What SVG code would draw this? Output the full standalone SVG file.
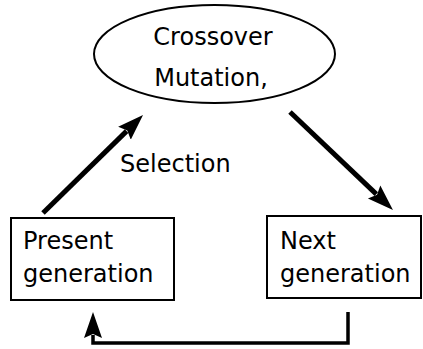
<svg xmlns="http://www.w3.org/2000/svg" width="423" height="349" viewBox="0 0 423 349">
  <style>
    .shape { fill: #fff; stroke: #000; stroke-width: 2; }
    .label { font-family: "DejaVu Sans", "Liberation Sans", sans-serif; font-size: 24px; fill: #000; }
    .link { fill: none; stroke: #000; stroke-width: 5; }
    .loop { fill: none; stroke: #000; stroke-width: 3.5; }
  </style>
  <defs>
    <!-- solid, slightly notched arrowhead; the line stops at its back edge -->
    <marker id="head" markerUnits="userSpaceOnUse" viewBox="-3 -10 27 20" refX="0" refY="0" markerWidth="27" markerHeight="20" orient="auto">
      <path d="M-3,-9 L23,0 L-3,9 L1,0 z" fill="#000"/>
    </marker>
  </defs>

  <g id="operators">
    <ellipse class="shape" cx="214.5" cy="54" rx="120.5" ry="49"/>
    <text class="label" x="213" y="45" text-anchor="middle">Crossover</text>
    <text class="label" x="211" y="86" text-anchor="middle">Mutation,</text>
  </g>

  <g id="present">
    <rect class="shape" x="11" y="218" width="163" height="82"/>
    <text class="label" x="23" y="249">Present</text>
    <text class="label" x="23" y="282">generation</text>
  </g>

  <g id="next">
    <rect class="shape" x="267" y="216" width="154" height="82"/>
    <text class="label" x="280" y="249">Next</text>
    <text class="label" x="280" y="282">generation</text>
  </g>

  <g id="connectors">
    <line class="link" x1="43" y1="213" x2="126.6" y2="131.1" marker-end="url(#head)"/>
    <text class="label" x="120" y="172">Selection</text>
    <line class="link" x1="290" y1="112" x2="376.3" y2="194.1" marker-end="url(#head)"/>
    <path class="loop" d="M348,312 V343 H93 V335" marker-end="url(#head)"/>
  </g>
</svg>
